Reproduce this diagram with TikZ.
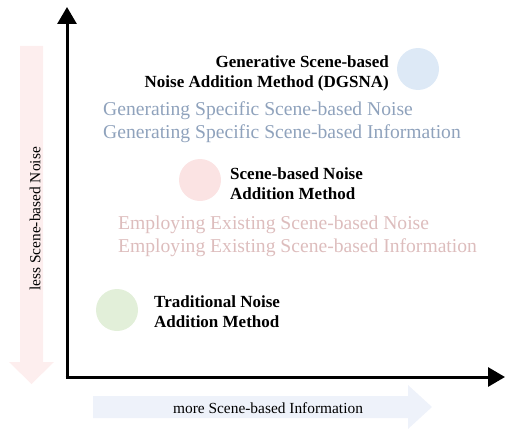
\documentclass[tikz,border=0pt]{standalone}
\usepackage{fontspec}
\setmainfont{Liberation Serif}
\usetikzlibrary{arrows.meta}
\definecolor{cblue}{HTML}{DDE9F6}
\definecolor{cpink}{HTML}{FBE3E3}
\definecolor{cgreen}{HTML}{E2EFD9}
\definecolor{tblue}{HTML}{8FA2BC}
\definecolor{tpink}{HTML}{DDBDBD}
\definecolor{apink}{HTML}{FDEEEE}
\definecolor{ablue}{HTML}{EEF2FA}
\tikzset{
  axis/.style={line width=3pt,-{Triangle[length=17pt,width=19pt]}},
  blob/.style={circle,minimum size=42pt,inner sep=0pt},
  method/.style={font=\fontsize{17}{20}\selectfont\bfseries,inner sep=0pt},
  desc/.style={font=\fontsize{19.6}{23}\selectfont,inner sep=0pt,align=left,anchor=west},
  small/.style={font=\fontsize{15.4}{17}\selectfont,inner sep=0pt}
}
\begin{document}
\begin{tikzpicture}[x=1pt,y=-1pt]
\useasboundingbox (0,0) rectangle (505,428);
% background arrows
\fill[apink] (20,46) -- (43,46) -- (43,362) -- (54,362) -- (31.5,384) -- (9,362) -- (20,362) -- cycle;
\fill[ablue] (93,396) -- (408,396) -- (408,385) -- (432,407) -- (408,429) -- (408,418) -- (93,418) -- cycle;
\node[small,rotate=90] (ylab) at (35,219) {less Scene-based Noise};
\node[small] (xlab) at (268,408) {more Scene-based Information};
% axes
\coordinate (o) at (67,377);
\coordinate (ytip) at (67,7);
\coordinate (xtip) at (505,377);
\draw[axis] (o) -- (ytip);
\draw[axis] ([xshift=-1.5pt]o) -- (xtip);
% circles
\node[blob,fill=cblue] (c1) at (418,69) {};
\node[blob,fill=cpink] (c2) at (200,180) {};
\node[blob,fill=cgreen] (c3) at (117,310) {};
% texts
\node[method,align=right,anchor=east] (m1) at (389,73) {Generative Scene-based\\Noise Addition Method (DGSNA)};
\node[desc,text=tblue] (d1) at (103,122) {Generating Specific Scene-based Noise\\Generating Specific Scene-based Information};
\node[method,align=left,anchor=west] (m2) at (230,184) {Scene-based Noise\\Addition Method};
\node[desc,text=tpink] (d2) at (118,236.5) {Employing Existing Scene-based Noise\\Employing Existing Scene-based Information};
\node[method,align=left,anchor=west] (m3) at (154,312) {Traditional Noise\\Addition Method};
\end{tikzpicture}
\end{document}
